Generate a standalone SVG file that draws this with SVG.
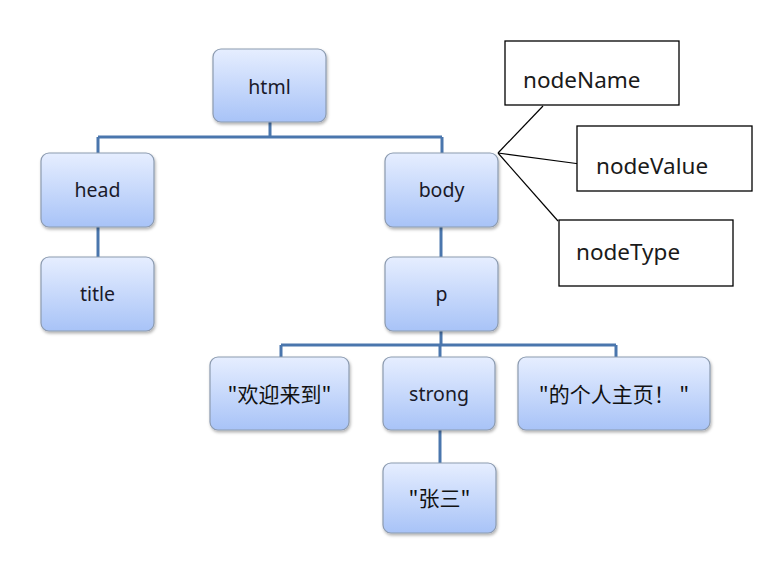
<svg xmlns="http://www.w3.org/2000/svg" width="773" height="570" viewBox="0 0 773 570">
<defs>
<linearGradient id="g" x1="0" y1="0" x2="0" y2="1">
<stop offset="0" stop-color="#e6eeff"/>
<stop offset="1" stop-color="#a8c3f7"/>
</linearGradient>
<filter id="sh" x="-10%" y="-10%" width="125%" height="130%">
<feDropShadow dx="1" dy="2" stdDeviation="1.5" flood-color="#000" flood-opacity="0.3"/>
</filter>
</defs>
<style>
.n rect{fill:url(#g);stroke:#8c9bb0;stroke-width:1.2;filter:url(#sh)}
.n text{font-family:"Noto Sans","Noto Sans CJK SC",sans-serif;font-size:19.5px;fill:#1a1a2a;text-anchor:middle}
.n text.cjk{font-family:"Noto Sans CJK SC",sans-serif;font-size:21px;fill:#111}
.c path{fill:none;stroke:#4a76ad;stroke-width:3}
.lb rect{fill:#fff;stroke:#000;stroke-width:1.3}
.lb text{font-family:"Noto Sans",sans-serif;font-size:22.5px;fill:#1a1a1a}
.cl line{stroke:#000;stroke-width:1.2}
</style>
<rect width="773" height="570" fill="#fff"/>
<g class="c">
<path d="M270 122V137M98 137H442M98 137V153M442 137V153"/>
<path d="M98 227V257"/>
<path d="M441 227V257"/>
<path d="M441 331V345M281 345H616M281 345V357M440 345V357M616 345V357"/>
<path d="M440 430V463"/>
</g>
<g class="cl">
<line x1="498" y1="153" x2="543" y2="106"/>
<line x1="498" y1="153" x2="580" y2="164"/>
<line x1="498" y1="153" x2="558" y2="221"/>
</g>
<g id="html" class="n"><rect x="213" y="49" width="113" height="73" rx="8"/><text x="269.5" y="94">html</text></g>
<g id="head" class="n"><rect x="41" y="153" width="113" height="74" rx="8"/><text x="97.5" y="197">head</text></g>
<g id="title" class="n"><rect x="41" y="257" width="113" height="74" rx="8"/><text x="97.5" y="301">title</text></g>
<g id="body" class="n"><rect x="385" y="153" width="113" height="74" rx="8"/><text x="441.5" y="197">body</text></g>
<g id="p" class="n"><rect x="385" y="257" width="113" height="74" rx="8"/><text x="441.5" y="301">p</text></g>
<g id="t1" class="n"><rect x="210" y="357" width="139" height="73" rx="8"/><text class="cjk" x="279.5" y="402">"欢迎来到"</text></g>
<g id="strong" class="n"><rect x="383" y="357" width="112" height="73" rx="8"/><text x="439" y="401">strong</text></g>
<g id="t2" class="n"><rect x="518" y="357" width="192" height="73" rx="8"/><text class="cjk" x="614" y="402">"的个人主页！ "</text></g>
<g id="t3" class="n"><rect x="383" y="463" width="113" height="70" rx="8"/><text class="cjk" x="439.5" y="506">"张三"</text></g>
<g id="nodeName" class="lb"><rect x="505" y="41" width="174" height="64"/><text x="523" y="88">nodeName</text></g>
<g id="nodeValue" class="lb"><rect x="577" y="126" width="175" height="65"/><text x="596" y="174">nodeValue</text></g>
<g id="nodeType" class="lb"><rect x="559" y="220" width="174" height="66"/><text x="576" y="260">nodeType</text></g>
</svg>
